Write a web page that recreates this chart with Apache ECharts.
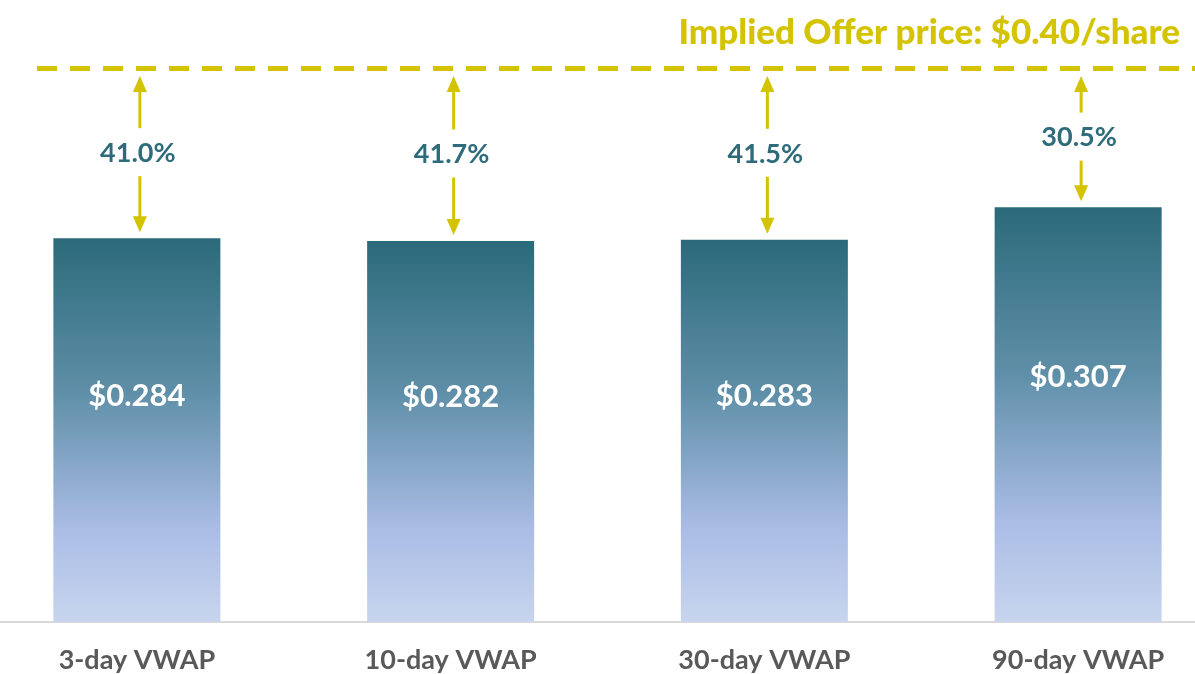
<!DOCTYPE html>
<html>
<head>
<meta charset="utf-8">
<script src="https://cdn.jsdelivr.net/npm/echarts@6/dist/echarts.min.js"></script>
<style>
  html, body { margin: 0; padding: 0; background: #fff; }
  #chart { width: 1195px; height: 674px; }
</style>
</head>
<body>
<div id="chart"></div>
<script>
const categories = ["3-day VWAP", "10-day VWAP", "30-day VWAP", "90-day VWAP"];
const vwapValues = [0.284, 0.282, 0.283, 0.307];
const premiumLabels = ["41.0%", "41.7%", "41.5%", "30.5%"];
const offerPrice = 0.40;
// where the dashed line sits on the bar scale in the picture
const offerLineLevel = 0.41;

const YELLOW = "#d4c300";
const TEAL = "#2e6b7b";

const chart = echarts.init(document.getElementById("chart"));

// arrows + premium label between bar top and offer line
function renderArrow(params, api) {
  const x = api.coord([api.value(0), 0])[0] + 3;
  const yTop = api.coord([api.value(0), api.value(2)])[1];
  const yBar = api.coord([api.value(0), api.value(1)])[1];
  const mid = (yTop + yBar) / 2;
  const up = yTop + 8;
  const down = yBar - 6;
  const head = 16, hw = 7;
  const style = { stroke: YELLOW, lineWidth: 3 };
  return {
    type: "group",
    children: [
      { type: "line", shape: { x1: x, y1: up + head - 1, x2: x, y2: mid - 25 }, style },
      { type: "polygon", shape: { points: [[x, up], [x - hw, up + head], [x + hw, up + head]] }, style: { fill: YELLOW } },
      { type: "line", shape: { x1: x, y1: mid + 23, x2: x, y2: down - head + 1 }, style },
      { type: "polygon", shape: { points: [[x, down], [x - hw, down - head], [x + hw, down - head]] }, style: { fill: YELLOW } },
      {
        type: "text",
        x: x - 2, y: mid,
        style: {
          text: premiumLabels[params.dataIndex],
          fill: TEAL,
          font: "bold 27px Lato",
          align: "center",
          verticalAlign: "middle"
        }
      }
    ]
  };
}

chart.setOption({
  animation: false,
  title: {
    text: "Implied Offer price: $" + offerPrice.toFixed(2) + "/share",
    right: 10,
    top: 10,
    textStyle: { color: YELLOW, fontFamily: "Lato", fontWeight: 900, fontSize: 35 }
  },
  grid: { left: -20, right: -40, top: 14, bottom: 52, outerBoundsMode: "none" },
  xAxis: {
    type: "category",
    data: categories,
    axisTick: { show: false },
    axisLine: { lineStyle: { color: "#d9d9d9", width: 2 } },
    axisLabel: {
      color: "#595959",
      fontFamily: "Lato",
      fontWeight: "bold",
      fontSize: 27,
      margin: 25
    }
  },
  yAxis: {
    type: "value",
    min: 0,
    max: 0.45,
    show: false,
    splitLine: { show: false }
  },
  series: [
    {
      type: "bar",
      data: vwapValues,
      barWidth: 167,
      itemStyle: {
        color: new echarts.graphic.LinearGradient(0, 0, 0, 1, [
          { offset: 0, color: "#2b6a7a" },
          { offset: 0.4, color: "#5f8fa8" },
          { offset: 0.76, color: "#abbde5" },
          { offset: 1, color: "#c7d5ee" }
        ])
      },
      label: {
        show: true,
        position: ["50%", "41%"],
        align: "center",
        verticalAlign: "middle",
        color: "#fff",
        fontFamily: "Lato",
        fontWeight: "bold",
        fontSize: 31,
        formatter: (p) => "$" + p.value.toFixed(3)
      },
      markLine: {
        symbol: "none",
        silent: true,
        label: { show: false },
        lineStyle: { color: YELLOW, type: [20, 13], width: 5 },
        data: [[{ x: 37, yAxis: offerLineLevel }, { x: 1195, yAxis: offerLineLevel }]]
      }
    },
    {
      type: "custom",
      renderItem: renderArrow,
      data: vwapValues.map((v, i) => [i, v, offerLineLevel]),
      z: 5
    }
  ]
});
</script>
</body>
</html>
